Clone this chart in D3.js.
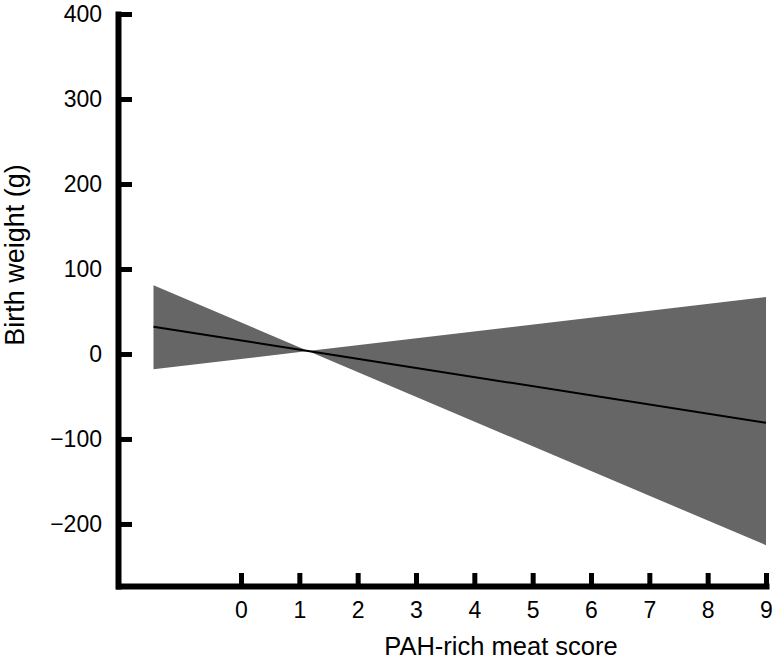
<!DOCTYPE html>
<html>
<head>
<meta charset="utf-8">
<script src="https://cdn.jsdelivr.net/npm/d3@7"></script>
<style>
  body { margin: 0; background: #fff; }
  text { font-family: "Liberation Sans", Arial, sans-serif; fill: #000; }
</style>
</head>
<body>
<div id="chart"></div>
<script>
var w = 773;
var h = 663;

// fitted line and confidence band
var scores = [-1.5, 1.15, 9];
var fitted = [32, 3.5, -81];
var lower = [-18, 3.5, -225];
var upper = [81, 3.5, 67];

var xTicks = [0, 1, 2, 3, 4, 5, 6, 7, 8, 9];
var yTicks = [-200, -100, 0, 100, 200, 300, 400];

var xScale = d3.scaleLinear().domain([-2.1, 9]).range([118.5, 766]);
var yScale = d3.scaleLinear().domain([-273, 400]).range([586, 14]);

var svg = d3.select("#chart").append("svg").attr("width", w).attr("height", h);

var band = scores.map(function (d, i) {
  return { x: d, lo: lower[i], hi: upper[i], fit: fitted[i] };
});

var area = d3
  .area()
  .x(function (d) { return xScale(d.x); })
  .y0(function (d) { return yScale(d.lo); })
  .y1(function (d) { return yScale(d.hi); });

svg.append("path").datum(band).attr("d", area).attr("fill", "#666666");

var line = d3
  .line()
  .x(function (d) { return xScale(d.x); })
  .y(function (d) { return yScale(d.fit); });

svg
  .append("path")
  .datum(band)
  .attr("d", line)
  .attr("fill", "none")
  .attr("stroke", "#000")
  .attr("stroke-width", 2);

// y axis, ticks pointing inward
var yAxis = svg
  .append("g")
  .attr("transform", "translate(118,0)")
  .call(d3.axisLeft(yScale).tickValues(yTicks).tickSizeInner(-14).tickSizeOuter(0).tickPadding(16));

// x axis, ticks pointing up
var xAxis = svg
  .append("g")
  .attr("transform", "translate(0,586)")
  .call(d3.axisBottom(xScale).tickValues(xTicks).tickSizeInner(-13).tickSizeOuter(0).tickPadding(16));

[yAxis, xAxis].forEach(function (g) {
  g.select(".domain").attr("stroke", "#000").attr("stroke-width", 6).attr("stroke-linecap", "square");
  g.selectAll(".tick line").attr("stroke", "#000").attr("stroke-width", 5);
  g.selectAll(".tick text").attr("font-size", "23px").attr("font-family", "Liberation Sans, Arial, sans-serif").attr("fill", "#000");
});

svg
  .append("text")
  .text("PAH-rich meat score")
  .attr("x", 501)
  .attr("y", 655)
  .attr("text-anchor", "middle")
  .attr("font-size", "25.5px");

svg
  .append("text")
  .text("Birth weight (g)")
  .attr("transform", "translate(24,255) rotate(-90)")
  .attr("text-anchor", "middle")
  .attr("font-size", "27px");
</script>
</body>
</html>
